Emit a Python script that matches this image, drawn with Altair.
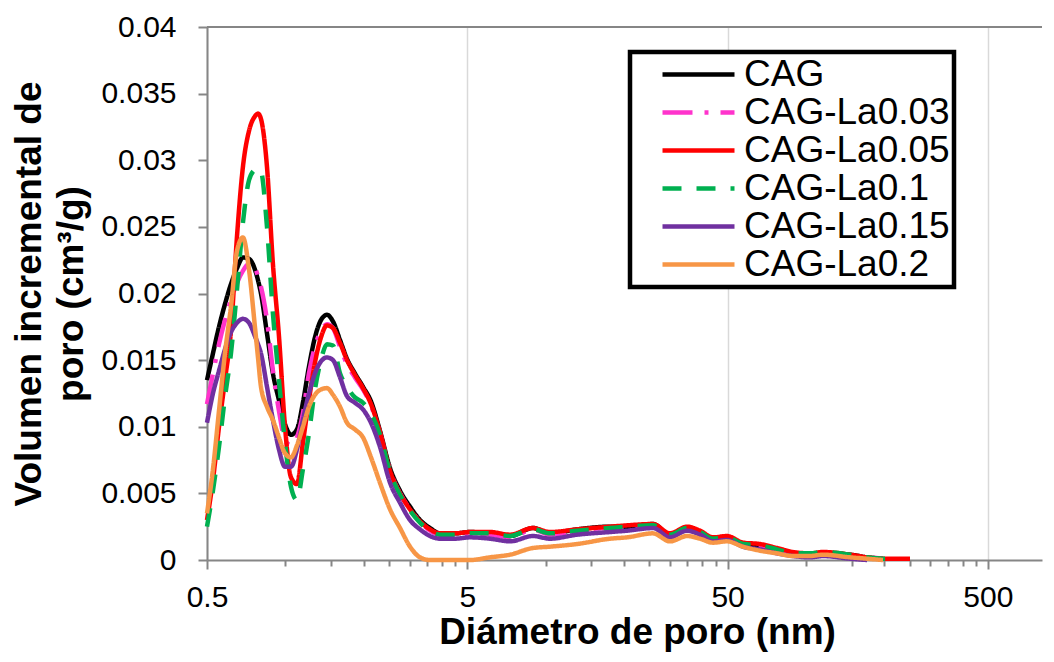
import altair as alt
import pandas as pd

# Diámetro de poro (nm)
diam = [0.5, 0.527, 0.556, 0.586, 0.618, 0.652, 0.687, 0.725, 0.764, 0.785, 0.806, 0.850,
        0.896, 0.945, 0.997, 1.051, 1.108, 1.168, 1.232, 1.299, 1.370, 1.445, 1.524, 1.622,
        1.725, 1.851, 1.987, 2.133, 2.309, 2.524, 2.757, 3.013, 3.291, 3.596, 3.928, 4.485,
        5.121, 6.113, 7.295, 8.935, 10.39, 13.20, 17.67, 20.54, 25.84, 30.04, 34.91, 39.16,
        43.94, 49.74, 57.30, 66.61, 77.42, 89.21, 103.7, 116.3, 147.6, 171.6, 197.7, 223.7, 251.0]

cag = [0.0135, 0.0155, 0.0175, 0.0192, 0.0207, 0.0219, 0.0227, 0.0226, 0.0218, 0.0210, 0.0200, 0.0170,
       0.0140, 0.0120, 0.0102, 0.0094, 0.0098, 0.0118, 0.0145, 0.0167, 0.0180, 0.0184, 0.0179, 0.0165,
       0.0151, 0.0140, 0.0130, 0.0119, 0.0097, 0.0069, 0.0052, 0.0040, 0.0030, 0.0024, 0.0020, 0.0020,
       0.0021, 0.0020, 0.0018, 0.0024, 0.0020, 0.0023, 0.0025, 0.0025, 0.0027, 0.0019, 0.0024, 0.0021,
       0.0016, 0.0017, 0.0012, 0.0011, 0.0008, 0.0005, 0.0005, 0.0005, 0.0004, 0.0002, 0.0001, None, None]

la003 = [0.0117, 0.0140, 0.0162, 0.0180, 0.0195, 0.0208, 0.0217, 0.0222, 0.0219, 0.0213, 0.0205, 0.0180,
         0.0142, 0.0112, 0.0090, 0.0086, 0.0092, 0.0110, 0.0140, 0.0160, 0.0172, 0.0177, 0.0174, 0.0160,
         0.0147, 0.0137, 0.0128, 0.0116, 0.0095, 0.0067, 0.0050, 0.0038, 0.0029, 0.0022, 0.0019, 0.0019,
         0.0020, 0.0019, 0.0017, 0.0023, 0.0019, 0.0022, 0.0024, 0.0024, 0.0026, 0.0018, 0.0023, 0.0020,
         0.0015, 0.0016, 0.0011, 0.0010, 0.0007, 0.0004, 0.0004, 0.0005, 0.0003, 0.0002, 0.0001, None, None]

la005 = [0.0030, 0.0060, 0.0100, 0.0135, 0.0172, 0.0243, 0.0295, 0.0322, 0.0333, 0.0335, 0.0331, 0.0295,
         0.0222, 0.0168, 0.0100, 0.0062, 0.0057, 0.0088, 0.0120, 0.0148, 0.0167, 0.0176, 0.0174, 0.0163,
         0.0150, 0.0139, 0.0129, 0.0117, 0.0096, 0.0067, 0.0050, 0.0038, 0.0029, 0.0023, 0.0020, 0.0020,
         0.0021, 0.0021, 0.0019, 0.0024, 0.0021, 0.0023, 0.0025, 0.0026, 0.0027, 0.0020, 0.0025, 0.0022,
         0.0017, 0.0018, 0.0013, 0.0012, 0.0009, 0.0006, 0.0005, 0.0006, 0.0004, 0.0002, 0.0001, 0.0001, 0.0001]

la01 = [0.0025, 0.0052, 0.0085, 0.0122, 0.0155, 0.0203, 0.0253, 0.0285, 0.0293, 0.0294, 0.0292, 0.0250,
        0.0185, 0.0135, 0.0088, 0.0055, 0.0045, 0.0068, 0.0095, 0.0128, 0.0150, 0.0162, 0.0161, 0.0140,
        0.0130, 0.0122, 0.0118, 0.0110, 0.0094, 0.0066, 0.0049, 0.0037, 0.0028, 0.0022, 0.0019, 0.0019,
        0.0020, 0.0020, 0.0018, 0.0023, 0.0020, 0.0022, 0.0024, 0.0025, 0.0026, 0.0019, 0.0024, 0.0021,
        0.0016, 0.0017, 0.0012, 0.0011, 0.0008, 0.0005, 0.0005, 0.0006, 0.0004, 0.0002, 0.0001, 0.0001, None]

la015 = [0.0103, 0.0125, 0.0142, 0.0158, 0.0171, 0.0178, 0.0181, 0.0178, 0.0168, 0.0162, 0.0155, 0.0130,
         0.0105, 0.0083, 0.0070, 0.0070, 0.0083, 0.0105, 0.0125, 0.0140, 0.0149, 0.0152, 0.0150, 0.0137,
         0.0123, 0.0118, 0.0113, 0.0103, 0.0085, 0.0058, 0.0043, 0.0030, 0.0023, 0.0018, 0.0016, 0.0016,
         0.0017, 0.0016, 0.0014, 0.0018, 0.0016, 0.0019, 0.0021, 0.0022, 0.0024, 0.0017, 0.0022, 0.0019,
         0.0014, 0.0015, 0.0010, 0.0008, 0.0005, 0.0003, 0.0002, 0.0003, 0.0001, 0.0000, None, None, None]

la02 = [0.0035, 0.0068, 0.0112, 0.0155, 0.0190, 0.0232, 0.0242, 0.0218, 0.0175, 0.0152, 0.0130, 0.0115,
        0.0105, 0.0092, 0.0080, 0.0077, 0.0086, 0.0100, 0.0115, 0.0124, 0.0128, 0.0129, 0.0124, 0.0115,
        0.0103, 0.0098, 0.0092, 0.0077, 0.0058, 0.0038, 0.0024, 0.0010, 0.0002, 0.0000, 0.0000, 0.0000,
        0.0000, 0.0002, 0.0004, 0.0009, 0.0010, 0.0012, 0.0016, 0.0017, 0.0020, 0.0014, 0.0018, 0.0016,
        0.0013, 0.0014, 0.0010, 0.0007, 0.0005, 0.0003, 0.0003, 0.0004, 0.0002, 0.0001, 0.0000, None, None]

series_names = ["CAG", "CAG-La0.03", "CAG-La0.05", "CAG-La0.1", "CAG-La0.15", "CAG-La0.2"]
series_values = [cag, la003, la005, la01, la015, la02]
colors = ["#000000", "#FF33CC", "#FF0000", "#00B050", "#7030A0", "#F79646"]
dashes = [[1, 0], [30, 12, 4, 12], [1, 0], [19, 15], [1, 0], [1, 0]]

x_major = [0.5, 5, 50, 500]
x_minor = [1, 1.5, 2, 2.5, 3, 3.5, 4, 4.5,
           10, 15, 20, 25, 30, 35, 40, 45,
           100, 150, 200, 250, 300, 350, 400, 450]
y_ticks = [0, 0.005, 0.01, 0.015, 0.02, 0.025, 0.03, 0.035, 0.04]

rows = []
for name, vals in zip(series_names, series_values):
    for d, v in zip(diam, vals):
        if v is not None:
            rows.append({"serie": name, "d": d, "v": v})
df = pd.DataFrame(rows)

FONT = "Liberation Sans"
major_test = "indexof([0.5,5,50,500], datum.value) >= 0"

x_enc = alt.X(
    "d:Q",
    scale=alt.Scale(type="log", domain=[0.5, 807], nice=False),
    axis=alt.Axis(
        values=x_major + x_minor,
        labelExpr=f"{major_test} ? format(datum.value, '~g') : ''",
        title="Diámetro de poro (nm)",
        grid=True,
        gridColor="#d9d9d9",
        gridWidth=1.5,
        gridOpacity={"condition": {"test": major_test, "value": 1}, "value": 0},
        tickSize={"condition": {"test": major_test, "value": 9}, "value": 6},
        labelFontSize=30,
        labelPadding=13,
        titleFontSize=37,
        titlePadding=2,
        titleX=430,
        titleAlign="center",
        labelFlush=False,
        labelOverlap=False,
    ),
)

y_enc = alt.Y(
    "v:Q",
    scale=alt.Scale(domain=[0, 0.04], nice=False),
    axis=alt.Axis(
        values=y_ticks,
        format="~g",
        grid=False,
        title=["Volumen incremental de", "poro (cm³/g)"],
        tickSize=9,
        labelFontSize=30,
        labelPadding=22,
        titleFontSize=37,
        titleLineHeight=42,
        titlePadding=10,
    ),
)

legend = alt.Legend(
    orient="none",
    legendX=423,
    legendY=25,
    title=None,
    labelFontSize=37,
    labelFont=FONT,
    labelColor="black",
    labelLimit=0,
    labelOffset=7,
    labelExpr="datum.label + '       '",
    symbolType="stroke",
    symbolSize=5184,
    symbolStrokeWidth=4.5,
    symbolOffset=26,
    clipHeight=37,
    rowPadding=0,
    padding=4,
    strokeColor="black",
    fillColor="white",
)

lines = alt.Chart(df).mark_line(strokeWidth=4.5, interpolate="monotone").encode(
    x=x_enc,
    y=y_enc,
    color=alt.Color("serie:N", scale=alt.Scale(domain=series_names, range=colors), legend=legend),
    strokeDash=alt.StrokeDash("serie:N", scale=alt.Scale(domain=series_names, range=dashes), legend=legend),
)

top_border = alt.Chart(pd.DataFrame({"v": [0.04]})).mark_rule(color="#868686", strokeWidth=2).encode(
    y=alt.Y("v:Q")
)

chart = alt.layer(lines, top_border).properties(
    width=835,
    height=533,
    autosize=alt.AutoSizeParams(type="none"),
    padding={"left": 199, "top": 19, "right": 4, "bottom": 98},
).configure_view(stroke=None).configure_axis(
    domainColor="#868686",
    domainWidth=2,
    tickColor="#868686",
    tickWidth=2,
    labelFont=FONT,
    labelColor="black",
    titleFont=FONT,
    titleFontWeight="bold",
    titleColor="black",
).configure_legend(
    strokeWidth=4.5,
    cornerRadius=0,
)

chart.save("out.html", embed_options={"renderer": "svg", "actions": False})
